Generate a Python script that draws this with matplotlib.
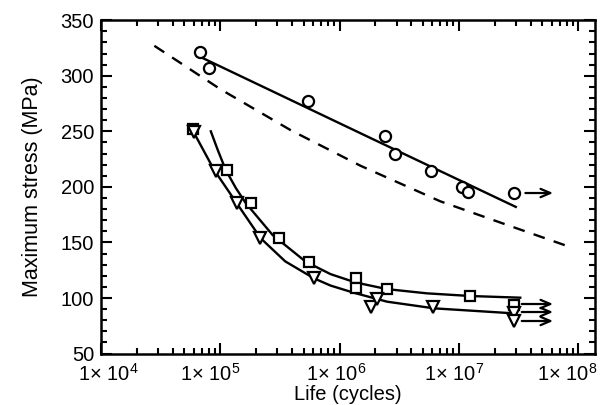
import numpy as np
import matplotlib.pyplot as plt
from matplotlib.ticker import FixedLocator, LogLocator, MultipleLocator, NullFormatter
from matplotlib.transforms import ScaledTranslation

plt.rcParams['font.family'] = ['Liberation Sans', 'DejaVu Sans']
plt.rcParams['mathtext.fontset'] = 'custom'
plt.rcParams['mathtext.rm'] = 'Liberation Sans'

# data
circ_x = [6.8e4, 8.1e4, 5.4e5, 2.4e6, 2.9e6, 5.8e6, 1.07e7, 1.2e7, 2.9e7]
circ_y = [321.5, 307, 277, 246, 230, 214, 200, 195, 194.5]
sq_x = [5.85e4, 1.13e5, 1.8e5, 3.1e5, 5.5e5, 1.36e6, 1.36e6, 2.5e6, 1.25e7, 2.88e7]
sq_y = [252.5, 215.3, 185.3, 154.3, 132, 117.7, 108.7, 107.8, 101.8, 93.7]
tri_x = [5.97e4, 9.16e4, 1.39e5, 2.15e5, 6.1e5, 1.83e6, 2.07e6, 6.1e6, 2.88e7, 2.88e7]
tri_y = [249.3, 214.4, 185.3, 154.3, 117.7, 92.2, 98.9, 92.2, 86.5, 79.5]

# fitted curves
circ_fit_x = [6.8e4, 1.9e6, 3e7]
circ_fit_y = [317, 243, 182]
dash_x = [2.8e4, 1e5, 3.9e5, 1.5e6, 7e6, 2.5e7, 8.5e7]
dash_y = [327, 288, 251, 219, 187, 166, 146]
sq_fit_x = [8.33e4, 9.5e4, 1.11e5, 1.35e5, 1.63e5, 2.74e5, 5.2e5, 8.4e5, 1.36e6, 2.5e6, 5.4e6, 1.25e7, 3.27e7]
sq_fit_y = [250, 233.5, 215.3, 199, 185.6, 156.8, 132.7, 121.5, 114, 108, 104.2, 101.8, 100.3]
tri_fit_x = [6.04e4, 8.87e4, 1.39e5, 2.18e5, 3.5e5, 6.1e5, 8.4e5, 1.32e6, 2.5e6, 6.2e6, 2.88e7]
tri_fit_y = [248.4, 215.3, 184.5, 153.8, 133, 117.7, 111.2, 104.7, 96.7, 90.7, 86.2]

# run-outs (arrows)
runout_x = 2.9e7
runout_end = 6.5e7
runout_y = [194.5, 94.6, 87.4, 79.3]

exps = [4, 5, 6, 7, 8]
label_shift_px = [7, -10, -3, -5, -11]

fig = plt.figure(figsize=(6.03, 4.05), dpi=100)
ax = fig.add_axes([0.1675, 0.127, 0.819, 0.823])

ax.plot(circ_fit_x, circ_fit_y, 'k-', lw=1.7)
ax.plot(dash_x, dash_y, 'k--', lw=1.7, dashes=(5, 4))
ax.plot(sq_fit_x, sq_fit_y, 'k-', lw=1.7)
ax.plot(tri_fit_x, tri_fit_y, 'k-', lw=1.7)

mk = dict(ls='none', mfc='white', mec='black', mew=1.6, zorder=3)
ax.plot(circ_x, circ_y, marker='o', ms=8, **mk)
ax.plot(sq_x, sq_y, marker='s', ms=7.5, **mk)
ax.plot(tri_x, tri_y, marker='v', ms=8, **mk)

for i, y in enumerate(runout_y):
    x0 = runout_x * (1.18 if i == 0 else 1.1)
    ax.annotate('', xy=(runout_end, y), xytext=(x0, y),
                arrowprops=dict(arrowstyle='->,head_length=0.7,head_width=0.3', lw=1.6, color='black'))

ax.set_xscale('log')
ax.set_xlim(1e4, 1.38e8)
ax.set_ylim(50, 350)

ax.xaxis.set_major_locator(FixedLocator([10.0 ** e for e in exps]))
ax.xaxis.set_minor_locator(LogLocator(base=10, subs=np.arange(2, 10), numticks=20))
ax.xaxis.set_minor_formatter(NullFormatter())
ax.set_xticklabels([r'1$\times$ 10$^{%d}$' % e for e in exps])
ax.yaxis.set_major_locator(MultipleLocator(50))
ax.yaxis.set_minor_locator(MultipleLocator(10))

ax.tick_params(which='both', direction='in', top=True, right=True, width=1.5, labelsize=14.5)
ax.tick_params(axis='x', pad=7)
ax.tick_params(axis='y', pad=5)
ax.tick_params(which='major', length=8)
ax.tick_params(which='minor', length=4)
for s in ax.spines.values():
    s.set_linewidth(1.8)

for lab, dx in zip(ax.get_xticklabels(), label_shift_px):
    lab.set_transform(lab.get_transform() + ScaledTranslation(dx / 100, 0, fig.dpi_scale_trans))

ax.set_xlabel('Life (cycles)', fontsize=14.5, labelpad=0)
ax.set_ylabel('Maximum stress (MPa)', fontsize=15.5, labelpad=13)

fig.savefig('out.png', dpi=100)
